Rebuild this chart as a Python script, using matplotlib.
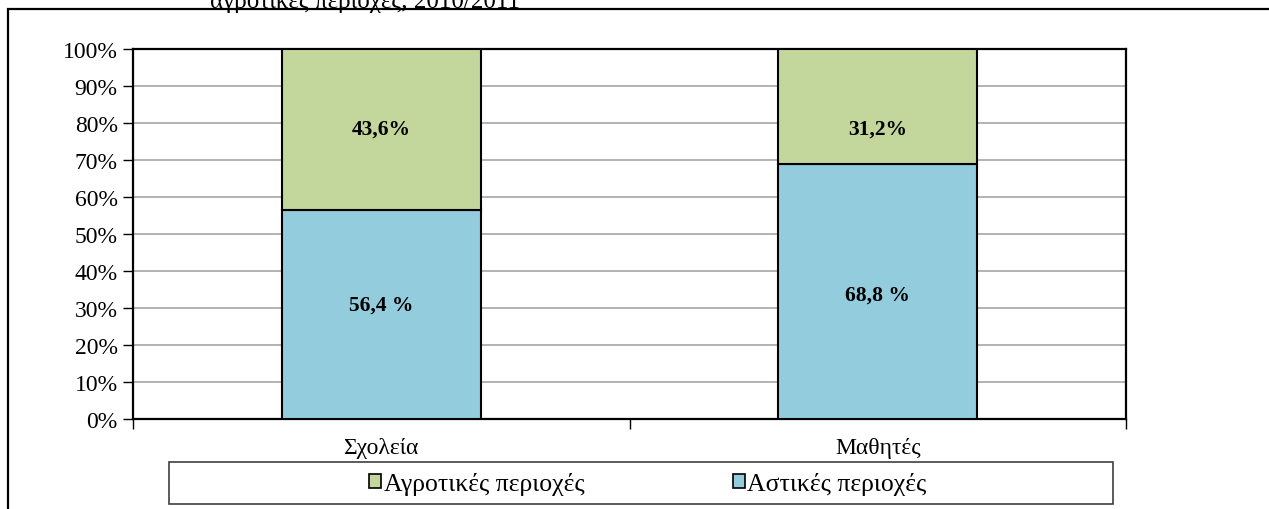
import matplotlib
matplotlib.use("Agg")
import matplotlib.pyplot as plt
from matplotlib.patches import Rectangle, Patch

# Données
categories = ['Σχολεία', 'Μαθητές']
astikes = [56.4, 68.8]
agrotikes = [43.6, 31.2]
lbl_astikes = ['56,4 %', '68,8 %']
lbl_agrotikes = ['43,6%', '31,2%']
yticks = [0, 10, 20, 30, 40, 50, 60, 70, 80, 90, 100]
titre = 'αγροτικές περιοχές, 2010/2011'

plt.rcParams['font.family'] = ['Liberation Serif', 'DejaVu Serif']

vert = '#C3D69B'
bleu = '#93CDDD'

fig = plt.figure(figsize=(12.69, 5.10), dpi=100)

# cadre extérieur
fig.patches.append(Rectangle((8 / 1269, -0.1), 1.2, 1.1 - 10 / 510,
                             transform=fig.transFigure, fill=False,
                             edgecolor='black', linewidth=1.6))
fig.text(210 / 1269, 1 - 8 / 510, titre, fontsize=18, va='baseline', ha='left')

ax = fig.add_axes([133 / 1269, 1 - 420 / 510, 993 / 1269, 370 / 510])
x = range(len(categories))
ax.bar(x, astikes, width=0.4, color=bleu, edgecolor='black', linewidth=1.5, zorder=3)
ax.bar(x, agrotikes, width=0.4, bottom=astikes, color=vert, edgecolor='black',
       linewidth=1.5, zorder=3)

# position des étiquettes (déplacées à la main dans l'original)
pos_bas = [31, 33.5]
pos_haut = [78.4, 78.4]
for i in x:
    ax.text(i, pos_bas[i], lbl_astikes[i], ha='center', va='center',
            fontsize=15.5, fontweight='bold', zorder=4)
    ax.text(i, pos_haut[i], lbl_agrotikes[i], ha='center',
            va='center', fontsize=15.5, fontweight='bold', zorder=4)

ax.set_xlim(-0.5, 1.5)
ax.set_ylim(0, 100)
ax.set_yticks(yticks)
ax.set_yticklabels([f'{v}%' for v in yticks], fontsize=17)
ax.set_xticks(list(x))
ax.set_xticklabels(categories, fontsize=17)
ax.set_xticks([-0.5, 0.5, 1.5], minor=True)
ax.tick_params(axis='x', which='major', length=0, pad=13)
ax.tick_params(axis='x', which='minor', length=7, width=1, direction='out')
ax.tick_params(axis='y', length=7, width=1, direction='out', pad=4)
ax.yaxis.grid(True, color='#A6A6A6', linewidth=1.2, zorder=0)
ax.set_axisbelow(True)
for s in ax.spines.values():
    s.set_linewidth(1.6)
    s.set_color('black')

# légende
fig.patches.append(Rectangle((169 / 1269, 1 - 505 / 510), 944 / 1269, 42 / 510,
                             transform=fig.transFigure, fill=False,
                             edgecolor='#404040', linewidth=1.2))
handles = [Patch(facecolor=vert, edgecolor='black', linewidth=1.2, label='Αγροτικές περιοχές'),
           Patch(facecolor=bleu, edgecolor='black', linewidth=1.2, label='Αστικές περιοχές')]
fig.legend(handles=handles, loc='center', bbox_to_anchor=(648 / 1269, 1 - 485 / 510),
           ncol=2, frameon=False, fontsize=18.5, handlelength=0.45, handleheight=0.45,
           handletextpad=0.1, columnspacing=5.8)

plt.savefig('out.png', dpi=100)
